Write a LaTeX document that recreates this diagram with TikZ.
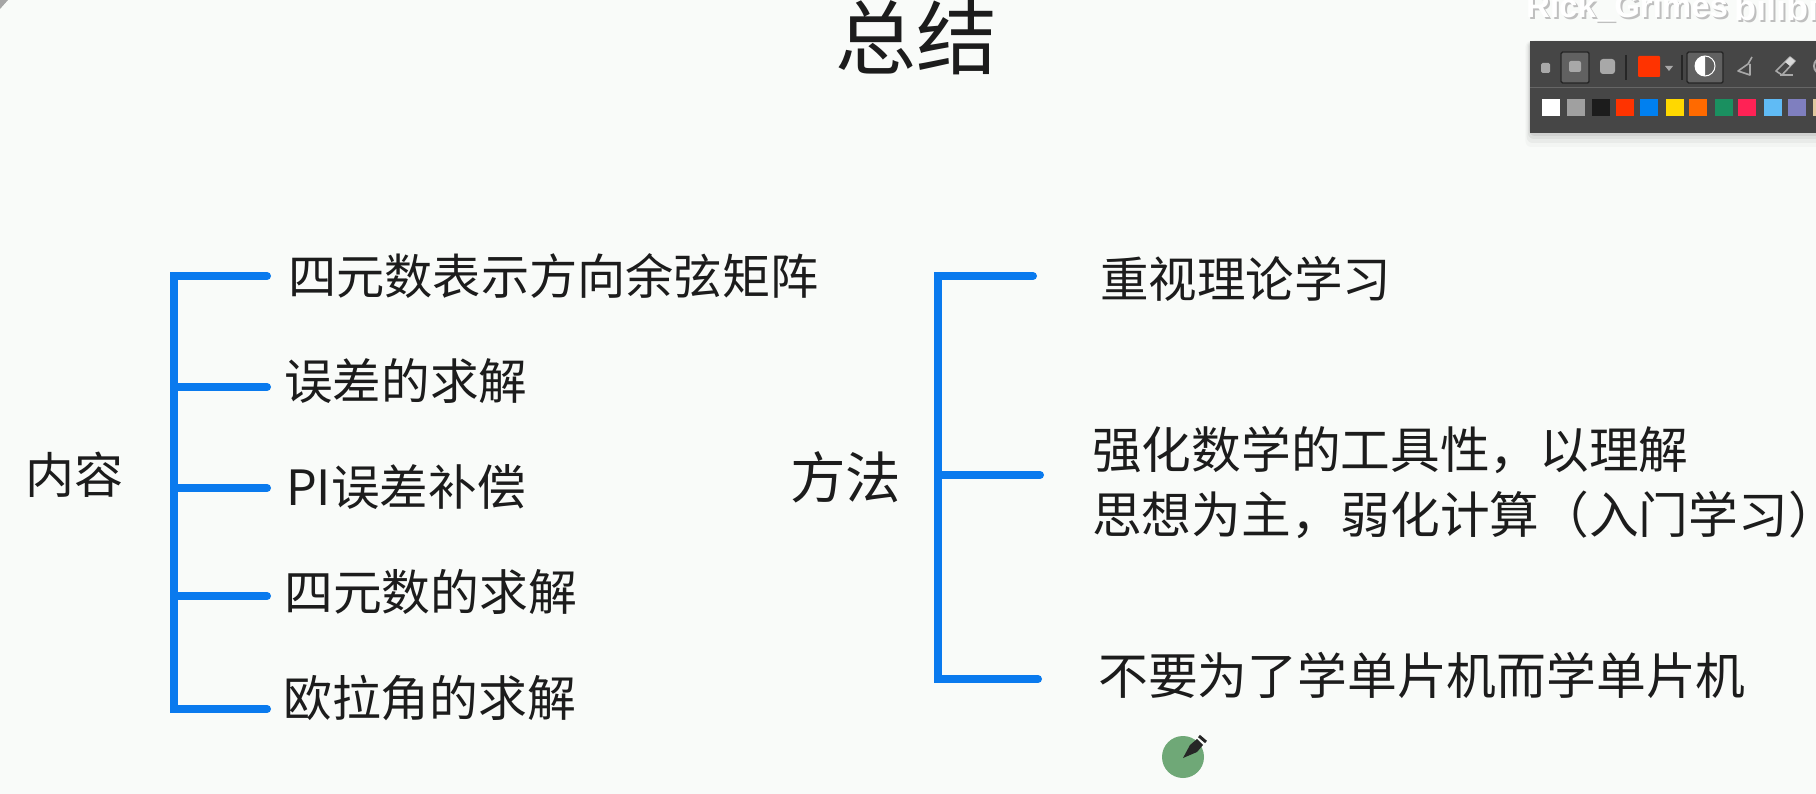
\documentclass[tikz,border=0pt]{standalone}
\usepackage{fontspec}
\setmainfont{Noto Sans CJK SC}
\newfontfamily\wmfont{Liberation Sans}
\definecolor{bgc}{HTML}{F9FBF9}
\definecolor{bluec}{HTML}{0A7AEE}
\definecolor{inkc}{HTML}{1C1C1C}
\definecolor{barc}{HTML}{464646}
\definecolor{pendot}{HTML}{6FA877}
\definecolor{iconc}{HTML}{A8A8A8}
\tikzset{
  tx/.style={anchor=west,inner sep=0pt,text=inkc,font=\fontsize{#1}{#1}\selectfont},
  br/.style={draw=bluec,line width=8pt,line cap=round},
  sep/.style={draw=black!85,line width=1.2pt},
  wm/.style={inner sep=0pt,anchor=base west,font=\wmfont\bfseries\fontsize{#1}{#1}\selectfont},
  icon/.style={draw=iconc,line width=1.6pt,line join=round}
}
\begin{document}
\begin{tikzpicture}[x=1pt,y=-1pt]
\useasboundingbox (0,0) rectangle (1816,794);
\fill[bgc] (0,0) rectangle (1816,794);
\clip (0,0) rectangle (1816,794);
% top-left remnant
\fill[black!35] (0,-10) -- (25,-10) -- (25,0) arc[start angle=0,end angle=90,radius=9,y radius=-9] -- (0,9) -- cycle;
% title
\node[tx=81] (title) at (835,38) {总结};
% left group
\node[tx=49] (a0) at (25,475) {内容};
\node[tx=48.2] (a1) at (288,276) {四元数表示方向余弦矩阵};
\node[tx=48.6] (a2) at (284,381) {误差的求解};
\node[tx=48.6] (a3) at (286,487) {PI误差补偿};
\node[tx=48.8] (a4) at (284,592) {四元数的求解};
\node[tx=48.8] (a5) at (283,698) {欧拉角的求解};
\coordinate (lt) at (174,276);
\coordinate (lb) at (174,709);
\coordinate (e1) at (267,276);
\coordinate (e2) at (267,387);
\coordinate (e3) at (267,488);
\coordinate (e4) at (267,596);
\coordinate (e5) at (267,709);
\draw[br] (e1) -- (lt) -- (lb) -- (e5);
\draw[br] (lt |- e2) -- (e2);
\draw[br] (lt |- e3) -- (e3);
\draw[br] (lt |- e4) -- (e4);
% right group
\node[tx=55.5] (b0) at (790,477) {方法};
\node[tx=48.5] (b1) at (1100,279) {重视理论学习};
\node[tx=49.7] (b2) at (1092,450) {强化数学的工具性，以理解};
\node[tx=49.7] (b2b) at (1092,515) {思想为主，弱化计算（入门学习）};
\node[tx=49.8] (b3) at (1098,675) {不要为了学单片机而学单片机};
\coordinate (rt) at (938,276);
\coordinate (rb) at (938,679);
\coordinate (f1) at (1033,276);
\coordinate (f2) at (1040,475);
\coordinate (f3) at (1038,679);
\draw[br] (f1) -- (rt) -- (rb) -- (f3);
\draw[br] (rt |- f2) -- (f2);
% pen dot
\fill[pendot] (1183,757) circle (21);
\fill[black!85] (1183,758) -- (1190,745) -- (1197,739) -- (1203,745) -- (1197,752) -- cycle;
\draw[black!85,line width=3pt] (1199,736) -- (1206,742);
% watermark
\node[wm=33,text=black!25] at (1528,20) {Rick\_Grimes};
\node[wm=33,text=white] (wmtext) at (1526,18) {Rick\_Grimes};
\node[wm=36,text=black!25] at (1736,23) {bilibili};
\node[wm=36,text=white] (wmlogo) at (1734,21) {bilibili};
% toolbar shadow
\foreach \s/\o in {14/.025,10/.04,6/.05,3/.06}{
  \fill[black,opacity=\o,rounded corners=6pt] (1530-\s/3,41) rectangle (1830,133+\s);
}
% toolbar
\fill[barc] (1530,41) rectangle (1816,133);
\draw[black!60,line width=.6pt] (1530,87) -- (1816,87);
\fill[iconc,rounded corners=1.5pt] (1541,63) rectangle (1550,73);
\filldraw[fill=black!62,draw=black!85,line width=1.4pt,rounded corners=1.5pt] (1561,52) rectangle (1589,83);
\fill[iconc,rounded corners=2pt] (1569,61) rectangle (1581,72);
\fill[iconc,rounded corners=3pt] (1600,59) rectangle (1615,74);
\draw[sep] (1626,55) -- (1626,80);
\fill[rounded corners=1pt,fill={rgb,255:red,255;green,51;blue,0}] (1638,56) rectangle (1660,77);
\fill[iconc] (1665,66) -- (1673,66) -- (1669,71) -- cycle;
\draw[sep] (1682,55) -- (1682,80);
\filldraw[fill=black!62,draw=black!85,line width=1.4pt,rounded corners=1.5pt] (1687,52) rectangle (1723,83);
\fill[white] (1705,56) arc[start angle=90,end angle=270,radius=10,y radius=-10] -- cycle;
\draw[white,line width=1pt] (1705,66) circle (10);
% broom
\draw[icon] (1752,57) -- (1748,64) -- (1738,71) -- (1750,75) -- (1750,64);
% eraser
\draw[icon] (1776,71) -- (1790,57) -- (1795,61) -- (1782,75) -- cycle;
\fill[white!85!black] (1785,62) -- (1790,57) -- (1795,61) -- (1790,66) -- cycle;
\draw[icon] (1780,75) -- (1793,75);
% partial circle
\draw[icon,line width=2pt] (1822,66) circle (8);
% palette
\foreach \x/\cc in {1542/FFFFFF,1567/A0A0A0,1592/1C1C1C,1616/FF3300,1640/0080F0,1666/FFD800,1689/FF6A00,1715/1A9060,1738/FF2255,1764/60BBF5,1788/7F7FBF,1813/E0C8A0}{
  \definecolor{sw}{HTML}{\cc}
  \fill[sw] (\x,99) rectangle ++(17.5,17.5);
}
\end{tikzpicture}
\end{document}
